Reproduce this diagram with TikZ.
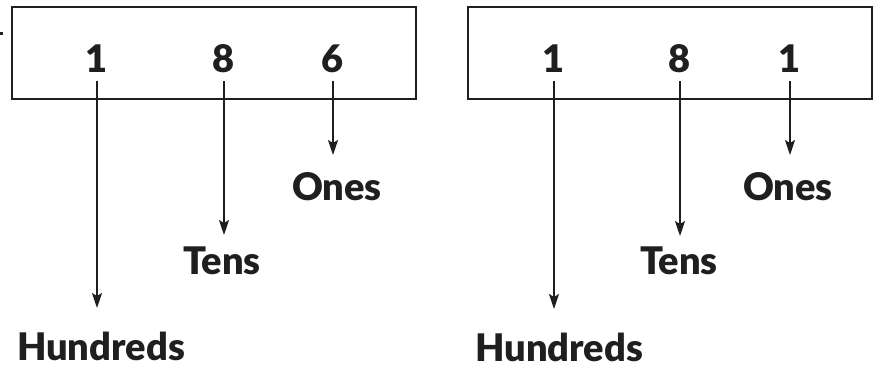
\documentclass[tikz,border=0pt]{standalone}
\usepackage{fontspec}
\setmainfont{Lato}[BoldFont={Lato Black}]
\usetikzlibrary{arrows.meta}
\tikzset{
  frame/.style={draw=black!88, line width=2.8pt},
  digit/.style={font=\fontsize{38}{40}\selectfont\bfseries, text=black!88, inner sep=0pt, anchor=base},
  place/.style={font=\fontsize{38}{40}\selectfont\bfseries, text=black!88, inner sep=0pt, anchor=base},
  pointer/.style={draw=black!88, line width=1.8pt, -{Stealth[length=15pt, width=10pt, inset=3pt]}}
}
\begin{document}
\begin{tikzpicture}[x=1pt, y=-1pt]
  \useasboundingbox (0,0) rectangle (876,368);
  % stray tick at the left edge
  \draw[black!88, line width=3pt] (0,33.3) -- (3,33.3);
  % the two number boxes
  \draw[frame] (12,7) rectangle (416,99);
  \draw[frame] (468,7) rectangle (872,99);

  % left number: 186
  \node[digit] (a1) at (97,72) {1};
  \node[digit] (a2) at (224,72) {8};
  \node[digit] (a3) at (333,72) {6};
  \node[place] (ah) at (101,360) {Hundreds};
  \node[place] (at) at (222,274) {Tens};
  \node[place] (ao) at (337,200) {Ones};
  \coordinate (ahe) at (97,308);
  \coordinate (ate) at (224,235);
  \coordinate (aoe) at (333,155);
  \draw[pointer] ([yshift=-9pt]a1.base) -- (ahe);
  \draw[pointer] ([yshift=-9pt]a2.base) -- (ate);
  \draw[pointer] ([yshift=-9pt]a3.base) -- (aoe);

  % right number: 181
  \node[digit] (b1) at (554,72) {1};
  \node[digit] (b2) at (680,72) {8};
  \node[digit] (b3) at (790,72) {1};
  \node[place] (bh) at (559,361) {Hundreds};
  \node[place] (bt) at (679,274) {Tens};
  \node[place] (bo) at (788,200) {Ones};
  \coordinate (bhe) at (554,309);
  \coordinate (bte) at (680,236);
  \coordinate (boe) at (790,155);
  \draw[pointer] ([yshift=-9pt]b1.base) -- (bhe);
  \draw[pointer] ([yshift=-9pt]b2.base) -- (bte);
  \draw[pointer] ([yshift=-9pt]b3.base) -- (boe);
\end{tikzpicture}
\end{document}
